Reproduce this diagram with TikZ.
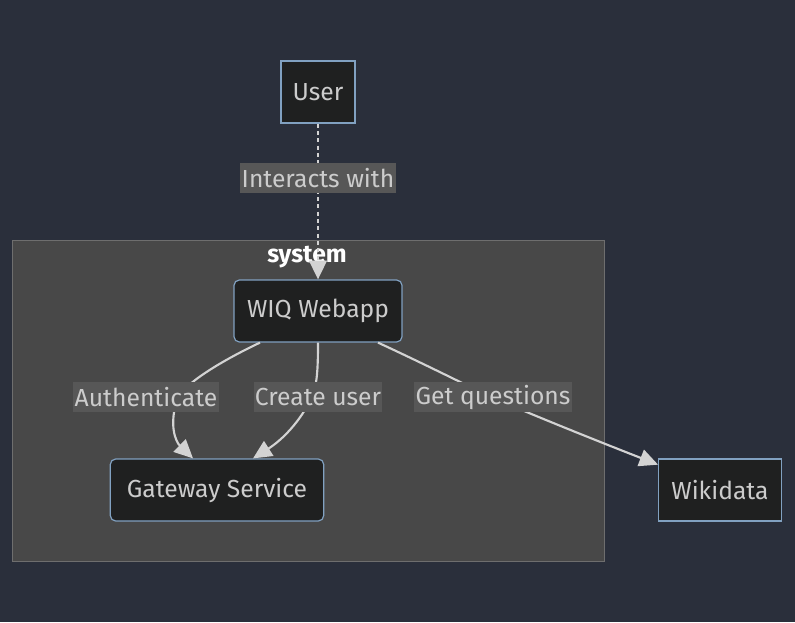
\documentclass[tikz,border=0pt]{standalone}
\usepackage{fontspec}
\setmainfont{Fira Sans}
\usetikzlibrary{arrows.meta,positioning,calc}
\definecolor{bgdark}{RGB}{42,47,59}
\definecolor{boxfill}{RGB}{31,32,32}
\definecolor{boxline}{RGB}{129,161,193}
\definecolor{clusterfill}{RGB}{72,72,72}
\definecolor{clusterline}{RGB}{110,110,110}
\definecolor{labelfill}{RGB}{87,87,87}
\definecolor{textgray}{RGB}{204,204,204}
\definecolor{edgegray}{RGB}{211,211,211}

\begin{document}
\begin{tikzpicture}[x=0.75pt, y=-0.75pt,
    font=\fontsize{18.5}{21}\selectfont,
    box/.style={draw=boxline, fill=boxfill, text=textgray, line width=0.9pt, minimum height=46.5pt, inner sep=0pt},
    roundbox/.style={box, rounded corners=4pt},
    lbl/.style={fill=labelfill, text=textgray, inner sep=1pt, minimum height=23pt},
    edge/.style={draw=edgegray, line width=1.6pt, -{Triangle[length=14pt,width=13pt]}}]
            % fond
            \fill[bgdark] (0,0) rectangle (795,622);
            \useasboundingbox (0,0) rectangle (795,622);

            % groupe system
            \draw[fill=clusterfill, draw=clusterline, line width=0.75pt] (12,240) rectangle (604,561);
            \node[text=white, font=\fontsize{18.5}{21}\selectfont\bfseries] (systitle) at (307,257) {system};

            % Boîtes
            \node[box, minimum width=55.5pt] (user) at (318,92) {User};
            \node[roundbox, minimum width=126pt] (webapp) at (318,311) {WIQ Webapp};
            \node[roundbox, minimum width=160pt] (gateway) at (217,490) {Gateway Service};
            \node[box, minimum width=92pt] (wikidata) at (720,490) {Wikidata};

            % Flèches
            \draw[edge, line width=2pt, dash pattern=on 3pt off 2.5pt] (user) -- (webapp)
                node[lbl, pos=0.35] (interacts) {Interacts with};
            \draw[edge] ([xshift=-43.5pt]webapp.south) .. controls (215,364) and (186,384) .. (178,397)
                node[lbl, xshift=-24pt] (auth) {Authenticate}
                .. controls (168,425) and (176,442) .. ([xshift=-18pt]gateway.north);
            \draw[edge] (webapp.south) .. controls (318,370) and (317,385) .. (312,397)
                node[lbl, xshift=4.5pt] (create) {Create user}
                .. controls (300,422) and (282,440) .. ([xshift=27pt]gateway.north);
            \draw[edge] ([xshift=45pt]webapp.south) .. controls (420,362) and (460,382) .. (491,397)
                node[lbl, xshift=1.5pt] (getq) {Get questions}
                .. controls (540,418) and (600,442) .. ([yshift=19pt]wikidata.west);
        \end{tikzpicture}
\end{document}
